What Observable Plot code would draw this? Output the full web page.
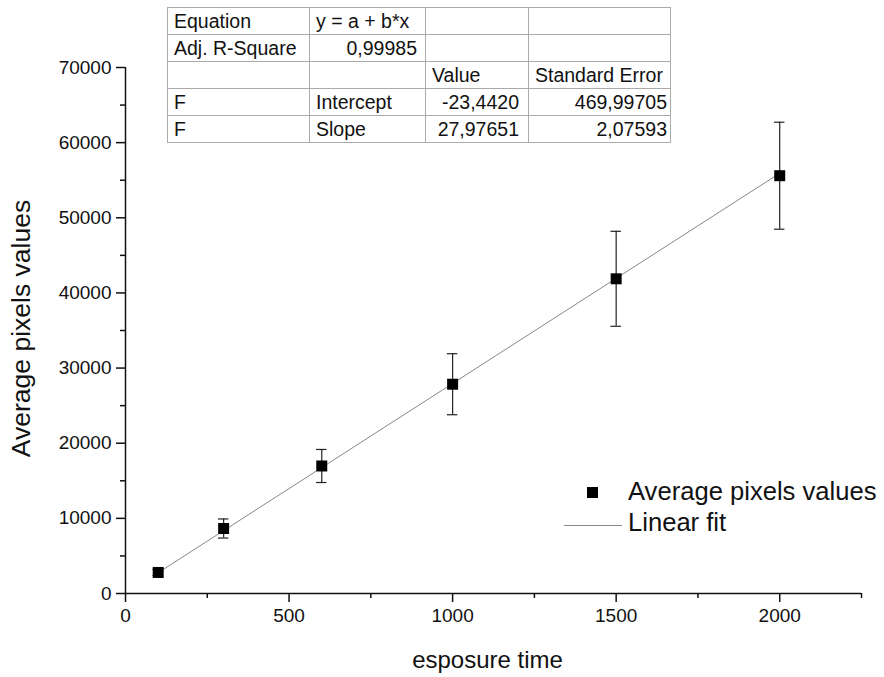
<!DOCTYPE html>
<html>
<head>
<meta charset="utf-8">
<script src="https://cdn.jsdelivr.net/npm/d3@7"></script>
<script src="https://cdn.jsdelivr.net/npm/@observablehq/plot@0.6"></script>
<style>
  body { margin: 0; background: white; }
  #wrap { position: relative; width: 884px; height: 677px; font-family: "Liberation Sans", Arial, sans-serif; }
  #tbl { position: absolute; left: 167px; top: 7px; border-collapse: collapse; table-layout: fixed; width: 503px; border: 1.5px solid #333; font-size: 19.5px; color: #111; }
  #tbl td { border: 1px solid #aaa; height: 26.2px; padding: 0 6px; white-space: nowrap; line-height: 26px; overflow: visible; box-sizing: border-box; }
  #tbl td.r { text-align: right; }
  #legend { position: absolute; left: 560px; top: 476px; font-size: 25.6px; color: #111; }
  .lrow { position: absolute; left: 0; white-space: nowrap; height: 30px; line-height: 30px; }
</style>
</head>
<body>
<div id="wrap"></div>
<script>
// ---- data ----
const exposure = [100, 300, 600, 1000, 1500, 2000];
const avgPixels = [2800, 8650, 16970, 27850, 41880, 55600];
const errPixels = [400, 1270, 2200, 4060, 6320, 7120];
const fitX = [100, 2000];
const fitY = [2774, 55929];
const xMajor = [0, 500, 1000, 1500, 2000];
const xMinor = [250, 750, 1250, 1750, 2250];
const yMajor = [0, 10000, 20000, 30000, 40000, 50000, 60000, 70000];
const yMinor = [5000, 15000, 25000, 35000, 45000, 55000, 65000];
const tableRows = [
  ["Equation", "y = a + b*x", "", ""],
  ["Adj. R-Square", "0,99985", "", ""],
  ["", "", "Value", "Standard Error"],
  ["F", "Intercept", "-23,4420", "469,99705"],
  ["F", "Slope", "27,97651", "2,07593"]
];
const legendLabels = ["Average pixels values", "Linear fit"];
const xTitle = "esposure time";
const yTitle = "Average pixels values";

const points = exposure.map((x, i) => ({x, y: avgPixels[i], lo: avgPixels[i] - errPixels[i], hi: avgPixels[i] + errPixels[i]}));
const fit = fitX.map((x, i) => ({x, y: fitY[i]}));
const capHalf = 16;

const chart = Plot.plot({
  width: 884, height: 677,
  marginLeft: 125, marginRight: 23, marginTop: 67, marginBottom: 84,
  x: {domain: [0, 2250]},
  y: {domain: [0, 70000]},
  style: {fontFamily: "'Liberation Sans', Arial, sans-serif", color: "#111", background: "white", overflow: "visible"},
  marks: [
    Plot.axisX({ticks: xMajor, tickSize: 9, tickPadding: 6, fontSize: 19, label: null, strokeWidth: 1.5, tickFormat: d3.format("d")}),
    Plot.axisX({ticks: xMinor, tickSize: 5, text: null, label: null, strokeWidth: 1.5}),
    Plot.axisY({ticks: yMajor, tickSize: 9, tickPadding: 5, fontSize: 19, label: null, strokeWidth: 1.5, tickFormat: d3.format("d")}),
    Plot.axisY({ticks: yMinor, tickSize: 5, text: null, label: null, strokeWidth: 1.5}),
    Plot.ruleY([0], {stroke: "#111", strokeWidth: 1.5}),
    Plot.ruleX([0], {stroke: "#111", strokeWidth: 1.5}),
    Plot.line(fit, {x: "x", y: "y", stroke: "#888", strokeWidth: 1}),
    Plot.ruleX(points, {x: "x", y1: "lo", y2: "hi", stroke: "#222", strokeWidth: 1.2}),
    Plot.ruleY(points, {y: "hi", x1: d => d.x - capHalf, x2: d => d.x + capHalf, stroke: "#222", strokeWidth: 1.2}),
    Plot.ruleY(points, {y: "lo", x1: d => d.x - capHalf, x2: d => d.x + capHalf, stroke: "#222", strokeWidth: 1.2}),
    Plot.dot(points, {x: "x", y: "y", symbol: "square", r: 6.2, fill: "black", stroke: null}),
    Plot.text([xTitle], {text: d => d, frameAnchor: "bottom", textAnchor: "middle", lineAnchor: "middle", dy: 67, dx: -6, fontSize: 24, fill: "#111"}),
    Plot.text([yTitle], {text: d => d, frameAnchor: "left", textAnchor: "middle", lineAnchor: "middle", dx: -104, dy: -2, rotate: -90, fontSize: 26.5, fill: "#111"})
  ]
});

const wrap = document.getElementById("wrap");
wrap.appendChild(chart);

// table
const tbl = document.createElement("table");
tbl.id = "tbl";
const colW = [142, 116, 103, 142];
const rightAlign = (r, c) => (r === 1 && c === 1) || (r >= 3 && c >= 2);
const padR = [6, 8, 9, 3];
const cg = document.createElement("colgroup");
colW.forEach(w => { const col = document.createElement("col"); col.style.width = w + "px"; cg.appendChild(col); });
tbl.appendChild(cg);
tableRows.forEach((row, r) => {
  const tr = document.createElement("tr");
  row.forEach((cell, c) => {
    const td = document.createElement("td");
    td.textContent = cell;
    if (rightAlign(r, c)) { td.className = "r"; td.style.paddingRight = padR[c] + "px"; }
    tr.appendChild(td);
  });
  tbl.appendChild(tr);
});
wrap.appendChild(tbl);

// legend
const legend = document.createElement("div");
legend.id = "legend";
legend.innerHTML = `
  <div class="lrow" style="top:0px">
    <span style="display:inline-block;width:11px;height:11px;background:black;margin-left:27px;margin-right:30px;vertical-align:middle;position:relative;top:-1px"></span><span>${legendLabels[0]}</span>
  </div>
  <div class="lrow" style="top:31px">
    <span style="display:inline-block;width:58px;height:1px;background:#888;margin-left:4px;margin-right:6px;vertical-align:middle;position:relative;top:1px"></span><span>${legendLabels[1]}</span>
  </div>`;
wrap.appendChild(legend);
</script>
</body>
</html>
